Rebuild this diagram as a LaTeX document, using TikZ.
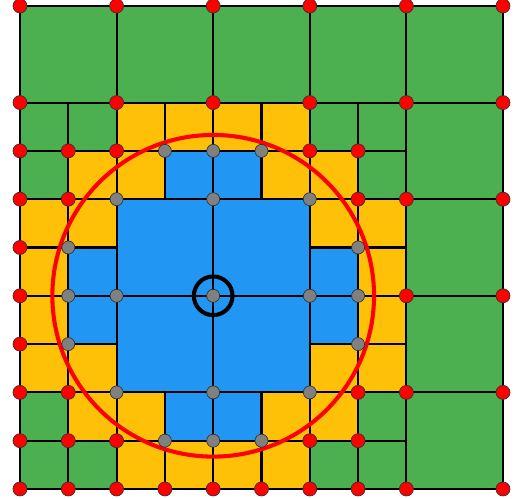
\documentclass[tikz,border=0pt]{standalone}
\usepackage{tikz}

\definecolor{cellgreen}{HTML}{4CAF50}
\definecolor{cellyellow}{HTML}{FFC107}
\definecolor{cellblue}{HTML}{2196F3}

\tikzset{
  cell/.style={draw=black, line width=1.2pt},
  meshnode/.style={draw=black!80, line width=0.4pt},
}

\begin{document}
\begin{tikzpicture}
  \useasboundingbox (-0.414,-0.207) rectangle (10.228,10.124);
  % coarse green cells
  \foreach \x/\y in {0/8,2/8,4/8,6/8,8/8,8/6,8/4,8/2,8/0}
    \filldraw[cell, fill=cellgreen] (\x,\y) rectangle ++(2,2);
  % fine green cells
  \foreach \x/\y in {0/7,1/7,0/6,6/7,7/7,7/6,0/1,0/0,1/0,7/1,6/0,7/0}
    \filldraw[cell, fill=cellgreen] (\x,\y) rectangle ++(1,1);
  % fine yellow cells
  \foreach \x/\y in {1/6,2/7,3/7,2/6,4/7,5/7,5/6,6/6,0/5,1/5,0/4,6/5,7/5,7/4,
                     0/3,0/2,1/2,7/3,6/2,7/2,1/1,2/1,2/0,3/0,5/1,4/0,5/0,6/1}
    \filldraw[cell, fill=cellyellow] (\x,\y) rectangle ++(1,1);
  % blue cells, fine and coarse
  \foreach \x/\y in {3/6,4/6,1/4,6/4,1/3,6/3,3/1,4/1}
    \filldraw[cell, fill=cellblue] (\x,\y) rectangle ++(1,1);
  \foreach \x/\y in {2/4,4/4,2/2,4/2}
    \filldraw[cell, fill=cellblue] (\x,\y) rectangle ++(2,2);
  % support radius around the centre
  \draw[red, line width=2.4pt] (4,4) circle (3.33);
  \draw[black, line width=2.4pt] (4,4) circle (0.4);
  % nodes outside the support
  \foreach \x/\y in {0/10,2/10,4/10,6/10,8/10,10/10,
                     0/8,2/8,4/8,6/8,8/8,10/8,
                     0/7,1/7,2/7,6/7,7/7,
                     0/6,1/6,7/6,8/6,10/6,
                     0/5,0/4,8/4,10/4,0/3,
                     0/2,1/2,7/2,8/2,10/2,
                     0/1,1/1,2/1,6/1,7/1,
                     0/0,1/0,2/0,3/0,4/0,5/0,6/0,7/0,8/0,10/0}
    \filldraw[meshnode, fill=red] (\x,\y) circle (0.145);
  % nodes inside the support
  \foreach \x/\y in {3/7,4/7,5/7,2/6,4/6,6/6,1/5,7/5,
                     1/4,2/4,4/4,6/4,7/4,1/3,7/3,2/2,4/2,6/2,3/1,4/1,5/1}
    \filldraw[meshnode, fill=gray] (\x,\y) circle (0.135);
\end{tikzpicture}
\end{document}
